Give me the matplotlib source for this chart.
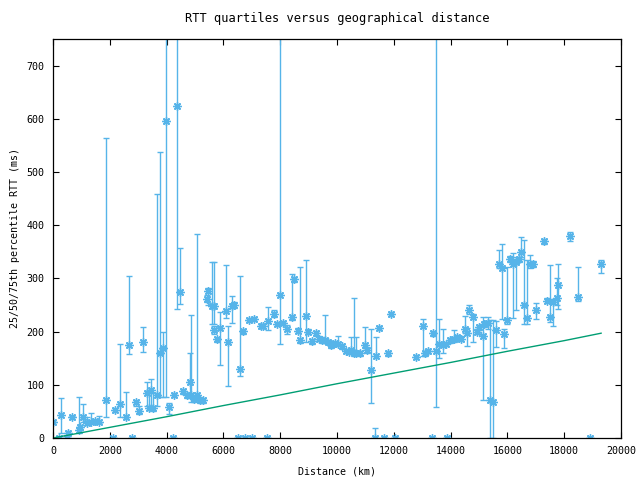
import numpy as np
import matplotlib
matplotlib.use("Agg")
import matplotlib.pyplot as plt

# distance (km), median RTT, 25th and 75th percentile (ms)
dist = [0, 200, 293, 489, 517, 680, 904, 960, 1067, 1186, 1327, 1467, 1631, 1866,
        2106, 2195, 2370, 2582, 2688, 2799, 2922, 3017, 3181, 3298, 3392, 3451, 3533,
        3674, 3768, 3885, 3990, 4095, 4215, 4271, 4377, 4482, 4588, 4706, 4824, 4870,
        4965, 5082, 5176, 5293, 5410, 5469, 5586, 5669, 5680, 5786, 5880, 6091, 6173,
        6290, 6384, 6513, 6595, 6701, 6771, 6889, 7018, 7077, 7312, 7406, 7524, 7582,
        7781, 7875, 7993, 8110, 8251, 8404, 8497, 8638, 8697, 8897, 8990, 9107, 9248,
        9377, 9460, 9588, 9683, 9789, 9929, 10046, 10164, 10316, 10410, 10500, 10598,
        10680, 10800, 10985, 11050, 11208, 11324, 11384, 11490, 11669, 11806, 11912,
        12045, 12793, 13018, 13088, 13194, 13359, 13370, 13486, 13602, 13743, 13838,
        13880, 13979, 14120, 14237, 14354, 14507, 14566, 14636, 14800, 14918, 15011,
        15130, 15187, 15304, 15387, 15504, 15598, 15715, 15821, 15891, 15997, 16091,
        16208, 16302, 16420, 16490, 16584, 16700, 16795, 16912, 17017, 17299, 17405,
        17499, 17616, 17734, 17793, 18215, 18486, 18908, 19306]
med = [30, 0, 43, 0, 9, 39, 15, 20, 40, 28, 31, 32, 31, 71,
       0, 53, 64, 39, 175, 0, 68, 51, 180, 84, 57, 90, 56,
       81, 159, 169, 596, 59, 0, 81, 625, 274, 88, 80, 106, 80,
       73, 81, 71, 71, 261, 277, 248, 203, 248, 186, 206, 239, 180,
       248, 250, 0, 129, 201, 0, 222, 0, 223, 211, 211, 0, 220,
       234, 214, 269, 216, 204, 227, 299, 202, 184, 229, 200, 182, 198,
       187, 184, 184, 181, 175, 178, 177, 173, 164, 162, 165, 159,
       160, 159, 175, 165, 128, 0, 154, 207, 0, 159, 233,
       0, 152, 210, 159, 164, 0, 197, 164, 176, 175, 177,
       0, 184, 186, 189, 187, 204, 197, 241, 228, 200, 208,
       191, 214, 217, 71, 68, 203, 327, 319, 195, 222, 336,
       328, 331, 336, 350, 250, 225, 328, 327, 241, 370, 258,
       228, 256, 263, 288, 380, 265, 0, 328]
lo = [30, 0, 9, 0, 5, 36, 9, 16, 31, 25, 28, 29, 28, 39,
      0, 49, 40, 35, 158, 0, 60, 45, 162, 60, 52, 55, 50,
      60, 78, 78, 78, 45, 0, 78, 242, 252, 82, 76, 75, 68,
      68, 75, 66, 66, 255, 250, 214, 195, 214, 180, 137, 225, 98,
      217, 245, 0, 117, 196, 0, 218, 0, 219, 207, 207, 0, 203,
      228, 210, 177, 212, 196, 222, 293, 197, 179, 181, 195, 177, 192,
      182, 179, 178, 176, 170, 173, 172, 168, 159, 157, 160, 155,
      156, 154, 170, 160, 65, 0, 150, 203, 0, 155, 229,
      0, 148, 154, 154, 160, 0, 192, 59, 150, 159, 172,
      0, 179, 181, 184, 182, 198, 172, 233, 181, 195, 203,
      71, 209, 205, 0, 0, 171, 320, 223, 170, 215, 330,
      225, 241, 330, 340, 215, 214, 319, 322, 223, 365, 253,
      218, 211, 250, 242, 371, 258, 0, 310]
hi = [30, 0, 76, 0, 14, 42, 78, 24, 64, 40, 47, 36, 41, 564,
      0, 57, 176, 87, 305, 0, 72, 60, 208, 106, 90, 110, 85,
      458, 538, 199, 800, 66, 0, 85, 800, 358, 92, 84, 159, 231,
      78, 383, 76, 76, 268, 282, 330, 210, 330, 190, 237, 325, 210,
      266, 255, 0, 305, 205, 0, 226, 0, 227, 215, 215, 0, 247,
      240, 218, 800, 220, 212, 308, 303, 206, 321, 335, 204, 186, 202,
      191, 188, 231, 185, 179, 182, 192, 177, 168, 166, 190, 264,
      190, 163, 208, 169, 204, 18, 190, 211, 0, 163, 237,
      0, 156, 223, 164, 168, 0, 202, 800, 223, 204, 181,
      0, 188, 203, 193, 191, 230, 207, 250, 233, 204, 212,
      228, 218, 228, 221, 221, 219, 353, 364, 205, 321, 342,
      347, 340, 341, 377, 372, 335, 344, 332, 253, 375, 263,
      325, 262, 300, 328, 387, 321, 0, 335]

# lower bound line (propagation delay)
line_d = [0, 2000, 4000, 6000, 8000, 10000, 12000, 14000, 16000, 18000, 19300]
line_v = [0, 20, 40, 61, 81, 102, 122, 142, 163, 183, 197]

med = np.array(med)
yerr = [med - np.array(lo), np.array(hi) - med]

plt.rcParams['font.family'] = ['DejaVu Sans Mono']
plt.rcParams['font.size'] = 7.2

fig = plt.figure(figsize=(6.4, 4.8), dpi=100)
ax = fig.add_axes([0.0828, 0.0875, 0.8875, 0.83125])

ax.errorbar(dist, med, yerr=yerr, fmt='none', ecolor='#56b4e9',
            elinewidth=1.0, capsize=2.4, capthick=1.0)
ax.plot(dist, med, linestyle='none', marker=(8, 2, 0), markersize=6,
        markeredgewidth=1.0, color='#56b4e9')
ax.plot(line_d, line_v, color='#009e73', lw=1.0)

ax.set_xlim(0, 20000)
ax.set_ylim(0, 750)
ax.set_xticks(np.arange(0, 20001, 2000))
ax.set_yticks(np.arange(0, 701, 100))
ax.tick_params(direction='in', top=True, right=True, length=4.5, width=0.8, pad=6)
for s in ax.spines.values():
    s.set_linewidth(0.9)

ax.set_title("RTT quartiles versus geographical distance", pad=12)
ax.set_xlabel("Distance (km)", labelpad=7)
ax.set_ylabel("25/50/75th percentile RTT (ms)", labelpad=5)

fig.savefig("out.png", dpi=100)
